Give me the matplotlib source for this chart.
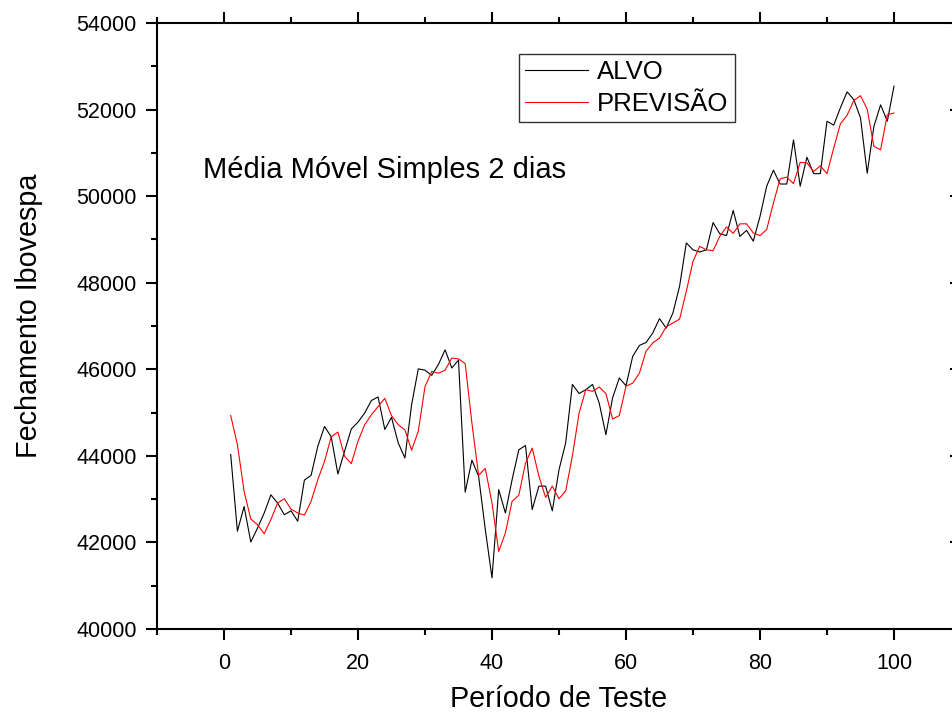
import matplotlib.pyplot as plt
from matplotlib.ticker import MultipleLocator

plt.rcParams['font.family'] = ['Liberation Sans', 'DejaVu Sans']

# dados
periodo = list(range(1, 101))
alvo = [44030, 42260, 42830, 42010, 42330, 42680, 43100, 42910, 42640, 42730,
        42490, 43440, 43550, 44220, 44680, 44440, 43580, 44110, 44620, 44780,
        44990, 45280, 45360, 44610, 44890, 44300, 43950, 45180, 46010, 45980,
        45860, 46110, 46450, 46030, 46210, 43160, 43900, 43530, 42300, 41180,
        43220, 42680, 43450, 44140, 44240, 42760, 43300, 43300, 42730, 43680,
        44300, 45650, 45440, 45530, 45650, 45220, 44490, 45340, 45800, 45620,
        46300, 46550, 46620, 46840, 47170, 46950, 47300, 47920, 48920, 48760,
        48710, 48760, 49390, 49130, 49090, 49670, 49070, 49210, 48960, 49530,
        50230, 50600, 50280, 50280, 51300, 50230, 50900, 50520, 50520, 51730,
        51640, 52040, 52410, 52230, 51810, 50530, 51610, 52110, 51730, 52540]
previsao = [44930, 44260, 43180, 42540, 42410, 42200, 42530, 42910, 43010, 42770,
            42680, 42630, 42950, 43450, 43870, 44440, 44550, 43990, 43820, 44340,
            44720, 44950, 45140, 45330, 44930, 44720, 44600, 44130, 44570, 45600,
            45950, 45910, 45980, 46260, 46240, 46130, 44760, 43550, 43710, 42910,
            41790, 42220, 42950, 43090, 43830, 44180, 43530, 43040, 43300, 43010,
            43190, 44000, 44990, 45530, 45490, 45590, 45440, 44850, 44930, 45610,
            45680, 45910, 46420, 46610, 46720, 46980, 47070, 47160, 47800, 48490,
            48840, 48760, 48740, 49070, 49290, 49140, 49360, 49360, 49150, 49090,
            49230, 49840, 50400, 50440, 50290, 50780, 50770, 50570, 50700, 50520,
            51110, 51670, 51870, 52210, 52320, 52010, 51150, 51070, 51880, 51920]

fig = plt.figure(figsize=(9.52, 7.16), dpi=100)
# eixo direito fica fora da imagem, como no original
ax = fig.add_axes([157/952, 87/716, 804/952, 606/716])

ax.plot(periodo, alvo, color='black', lw=0.8, label='ALVO')
ax.plot(periodo, previsao, color='red', lw=0.8, label='PREVISÃO')

ax.set_xlim(-10, 110)
ax.set_ylim(40000, 54000)
ax.xaxis.set_major_locator(MultipleLocator(20))
ax.xaxis.set_minor_locator(MultipleLocator(10))
ax.yaxis.set_major_locator(MultipleLocator(2000))
ax.yaxis.set_minor_locator(MultipleLocator(1000))

for s in ax.spines.values():
    s.set_linewidth(1.5)
ax.tick_params(which='both', direction='out', top=True, right=False, width=1.5, labelsize=15.5)
ax.tick_params(which='major', length=8)
ax.tick_params(which='minor', length=4.3)
ax.tick_params(axis='x', pad=9.5)
ax.tick_params(axis='y', pad=6.5)

# ticks do lado direito apontando para dentro
ax2 = ax.secondary_yaxis('right')
ax2.yaxis.set_major_locator(MultipleLocator(2000))
ax2.tick_params(direction='in', length=8, width=1.5, labelright=False)

ax.set_xlabel('Período de Teste', fontsize=20.7)
ax.set_ylabel('Fechamento Ibovespa', fontsize=20.7)
ax.xaxis.set_label_coords(0.5, -0.0925)
ax.yaxis.set_label_coords(-0.1418, 0.5165)

ax.text(-3.2, 50600, 'Média Móvel Simples 2 dias', fontsize=21, va='center', ha='left')

leg = ax.legend(loc='upper left', bbox_to_anchor=(519/952, 1 - 54/716),
                bbox_transform=fig.transFigure, fontsize=18.5, frameon=True,
                fancybox=False, edgecolor='black', borderaxespad=0,
                handlelength=2.45, handletextpad=0.35, labelspacing=0.28,
                borderpad=0.25)
leg.get_frame().set_linewidth(1.0)

plt.savefig('out.png', dpi=100)
